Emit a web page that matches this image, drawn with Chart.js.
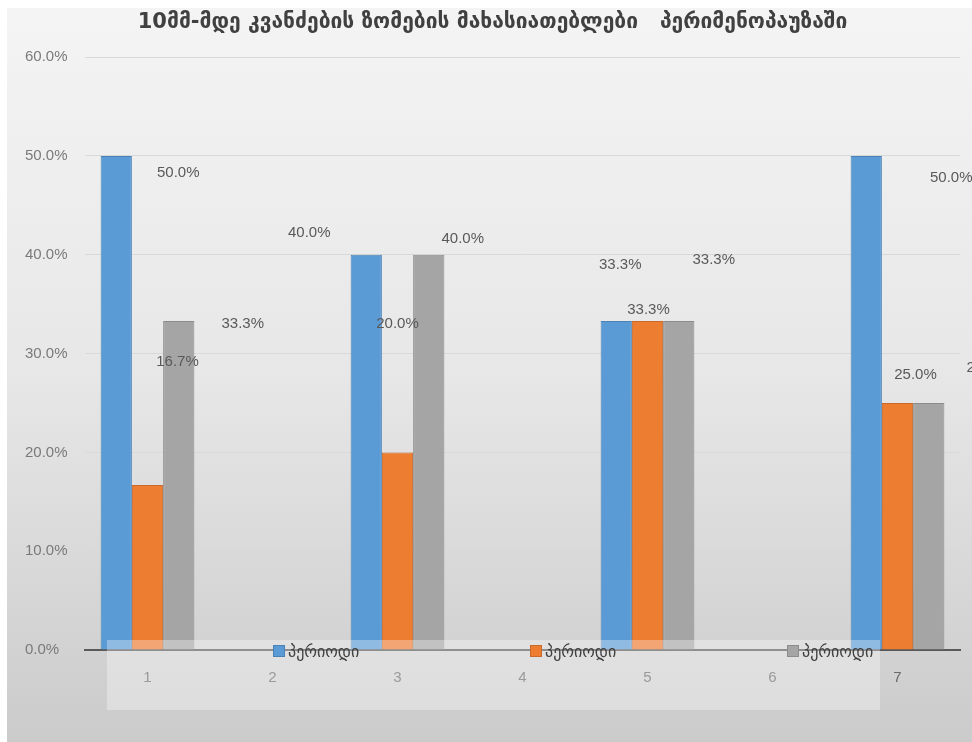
<!DOCTYPE html>
<html>
<head>
<meta charset="utf-8">
<title>10მმ-მდე კვანძების ზომები</title>
<script src="https://cdn.jsdelivr.net/npm/chart.js@4.4.1/dist/chart.umd.min.js"></script>
<style>
  html, body { margin: 0; padding: 0; background: #ffffff; }
  #chart { display: block; }
</style>
</head>
<body>
<canvas id="chart" width="972" height="742"></canvas>
<script>
// Categories and series values (percent)
const categories = ['1', '2', '3', '4', '5', '6', '7'];
const seriesNames = ['პერიოდი', 'პერიოდი', 'პერიოდი'];
const blueValues = [50.0, null, 40.0, null, 33.3, null, 50.0];
const orangeValues = [16.7, null, 20.0, null, 33.3, null, 25.0];
const grayValues = [33.3, null, 40.0, null, 33.3, null, 25.0];
const yTicks = [0, 10, 20, 30, 40, 50, 60];

const fills = ['#5b9bd5', '#ed7d31', '#a5a5a5'];
const edges = ['#4a80b3', '#c96a2a', '#8c8c8c'];

// where each value label sits, relative to the top centre of its bar
const labelOffsets = [
  [[62, 17], null, [-57, -22], null, [4, -56], null, [85, 22]],
  [[30, -123], null, [0, -129], null, [1, -11], null, [18, -28]],
  [[64, 3], null, [34, -16], null, [35, -61], null, [59, -35]]
];

const fmt = v => v.toFixed(1) + '%';

// grey gradient background with the thin white frame
const backdrop = {
  id: 'backdrop',
  beforeDraw(chart) {
    const ctx = chart.ctx;
    ctx.save();
    ctx.fillStyle = '#ffffff';
    ctx.fillRect(0, 0, chart.width, chart.height);
    const g = ctx.createLinearGradient(0, 8, 0, chart.height);
    g.addColorStop(0, '#f4f4f4');
    g.addColorStop(0.5, '#e7e7e7');
    g.addColorStop(1, '#cbcbcb');
    ctx.fillStyle = g;
    ctx.fillRect(7, 8, chart.width - 7, chart.height - 8);
    ctx.restore();
  }
};

// value labels, scattered around the bars
const valueLabels = {
  id: 'valueLabels',
  afterDatasetsDraw(chart) {
    const ctx = chart.ctx;
    ctx.save();
    ctx.font = '15px "Liberation Sans", Arial, sans-serif';
    ctx.fillStyle = '#595959';
    ctx.textAlign = 'center';
    ctx.textBaseline = 'middle';
    chart.data.datasets.forEach((ds, i) => {
      chart.getDatasetMeta(i).data.forEach((bar, j) => {
        const v = ds.data[j];
        const off = labelOffsets[i][j];
        if (v == null || !off) return;
        ctx.fillText(fmt(v), bar.x + off[0], bar.y + off[1]);
      });
    });
    ctx.restore();
  }
};

// translucent legend panel lying over the axis
const overlayLegend = {
  id: 'overlayLegend',
  afterDraw(chart) {
    const ctx = chart.ctx;
    ctx.save();
    ctx.fillStyle = 'rgba(255,255,255,0.32)';
    ctx.fillRect(107, 640, 773, 70);
    ctx.font = '16px "DejaVu Sans", sans-serif';
    ctx.textBaseline = 'middle';
    ctx.textAlign = 'left';
    chart.data.datasets.forEach((ds, i) => {
      const x = 273 + i * 257;
      ctx.fillStyle = ds.backgroundColor;
      ctx.fillRect(x, 645, 12, 12);
      ctx.strokeStyle = ds.borderColor;
      ctx.lineWidth = 1;
      ctx.strokeRect(x + 0.5, 645.5, 11, 11);
      ctx.fillStyle = '#404040';
      ctx.fillText(ds.label, x + 15, 653);
    });
    ctx.restore();
  }
};

new Chart(document.getElementById('chart'), {
  type: 'bar',
  data: {
    labels: categories,
    datasets: [
      { label: seriesNames[0], data: blueValues, backgroundColor: fills[0], borderColor: edges[0], borderWidth: 1 },
      { label: seriesNames[1], data: orangeValues, backgroundColor: fills[1], borderColor: edges[1], borderWidth: 1 },
      { label: seriesNames[2], data: grayValues, backgroundColor: fills[2], borderColor: edges[2], borderWidth: 1 }
    ]
  },
  options: {
    responsive: false,
    animation: false,
    layout: { padding: { left: 25, right: 12, top: 8, bottom: 0 } },
    datasets: { bar: { categoryPercentage: 0.75, barPercentage: 1.0 } },
    plugins: {
      legend: { display: false },
      tooltip: { enabled: false },
      title: {
        display: true,
        text: '10მმ-მდე კვანძების ზომების მახასიათებლები   პერიმენოპაუზაში',
        color: '#404040',
        font: { family: '"DejaVu Sans", sans-serif', size: 21, weight: 'bold' },
        padding: { top: 2, bottom: 22 }
      }
    },
    scales: {
      x: {
        grid: { display: false },
        border: { display: true, color: '#595959', width: 2 },
        ticks: {
          color: '#6a6a6a',
          padding: 11,
          font: { family: '"Liberation Sans", Arial, sans-serif', size: 15 }
        },
        afterFit(scale) { scale.height = 92; }
      },
      y: {
        min: 0,
        max: 60,
        afterBuildTicks(scale) { scale.ticks = yTicks.map(v => ({ value: v })); },
        grid: { color: '#d9d9d9', lineWidth: 1, drawTicks: false },
        border: { display: false },
        ticks: {
          color: '#7a7a7a',
          padding: 8,
          crossAlign: 'far',
          font: { family: '"Liberation Sans", Arial, sans-serif', size: 15 },
          callback: v => fmt(v)
        },
        afterFit(scale) { scale.width = 60; }
      }
    }
  },
  plugins: [backdrop, valueLabels, overlayLegend]
});
</script>
</body>
</html>
